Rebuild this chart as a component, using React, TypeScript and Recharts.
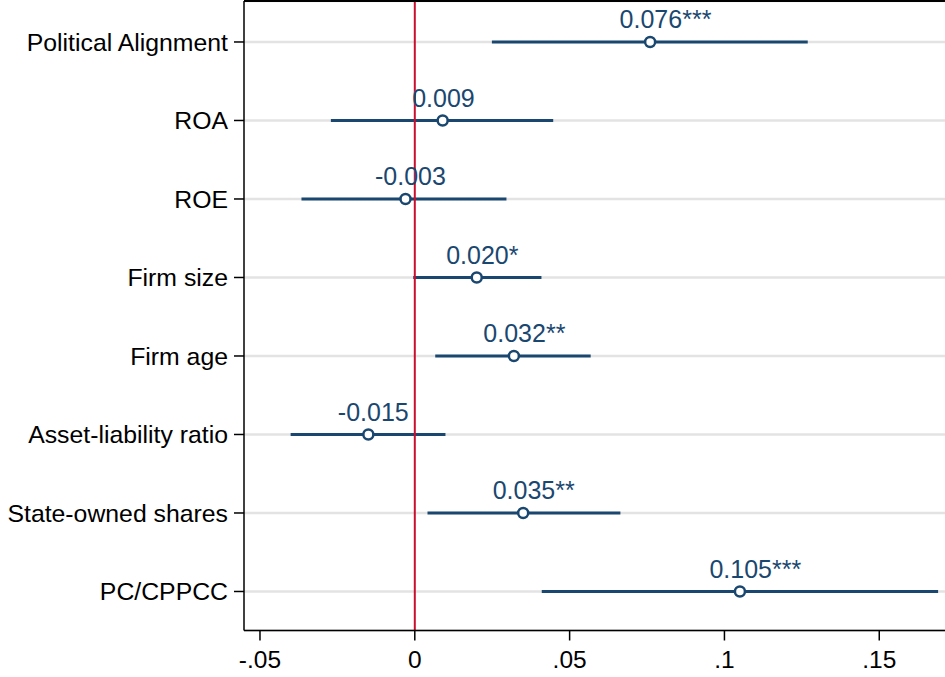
import React from "react";
import {
  ScatterChart,
  Scatter,
  XAxis,
  YAxis,
  CartesianGrid,
  ReferenceLine,
  ErrorBar,
  LabelList,
} from "recharts";

const variables = [
  "Political Alignment",
  "ROA",
  "ROE",
  "Firm size",
  "Firm age",
  "Asset-liability ratio",
  "State-owned shares",
  "PC/CPPCC",
];
const estimates = [0.076, 0.009, -0.003, 0.02, 0.032, -0.015, 0.035, 0.105];
const ciLow = [0.0249, -0.0271, -0.0366, -0.0005, 0.0066, -0.0401, 0.0041, 0.041];
const ciHigh = [0.1269, 0.0447, 0.0296, 0.0409, 0.0568, 0.0099, 0.0664, 0.169];
const labels = [
  "0.076***",
  "0.009",
  "-0.003",
  "0.020*",
  "0.032**",
  "-0.015",
  "0.035**",
  "0.105***",
];
const xTicks = [-0.05, 0, 0.05, 0.1, 0.15];
const xTickLabels = ["-.05", "0", ".05", ".1", ".15"];
const rowPositions = [1, 2, 3, 4, 5, 6, 7, 8];

const NAVY = "#1a476f";
const RED = "#c8102e";
const FONT = "'Liberation Sans', Arial, sans-serif";

const data = variables.map((v, i) => ({
  name: v,
  y: rowPositions[i],
  x: estimates[i],
  err: [estimates[i] - ciLow[i], ciHigh[i] - estimates[i]],
  label: labels[i],
}));

const PointShape = (props: any) => {
  const { cx, cy } = props;
  if (cx == null || cy == null) return null;
  return <circle cx={cx} cy={cy} r={5} fill="#ffffff" stroke={NAVY} strokeWidth={2.5} />;
};

const LabelContent = (props: any) => {
  const { x, y, value } = props;
  if (x == null || y == null) return null;
  return (
    <text
      x={x - 26}
      y={y - 9}
      textAnchor="start"
      fill={NAVY}
      fontSize={25}
      fontFamily={FONT}
    >
      {value}
    </text>
  );
};

export default function App() {
  return (
    <div style={{ position: "absolute", left: 0, top: 0, background: "#ffffff" }}>
      <ScatterChart
        width={945}
        height={677}
        margin={{ top: 0, right: 0, bottom: 0, left: 0 }}
      >
        <CartesianGrid
          horizontal={true}
          vertical={false}
          stroke="#e3e3e3"
          strokeWidth={2.5}
        />
        <XAxis
          xAxisId="top"
          orientation="top"
          type="number"
          dataKey="x"
          domain={[-0.05516, 0.17123]}
          allowDataOverflow={true}
          height={1}
          tick={false}
          tickLine={false}
          stroke="#000000"
          strokeWidth={2}
        />
        <XAxis
          type="number"
          dataKey="x"
          domain={[-0.05516, 0.17123]}
          allowDataOverflow={true}
          ticks={xTicks}
          interval={0}
          tickFormatter={(v: number) => {
            const idx = xTicks.findIndex((t) => Math.abs(t - v) < 1e-9);
            return idx >= 0 ? xTickLabels[idx] : String(v);
          }}
          height={46.5}
          tickSize={10}
          tickMargin={10}
          stroke="#000000"
          strokeWidth={1.5}
          tick={{ fill: "#000000", fontSize: 24.5, fontFamily: FONT }}
          tickLine={{ stroke: "#000000", strokeWidth: 1.5 }}
        />
        <YAxis
          type="number"
          dataKey="y"
          domain={[0.478, 8.497]}
          reversed={true}
          allowDataOverflow={true}
          ticks={rowPositions}
          interval={0}
          tickFormatter={(v: number) => variables[Math.round(v) - 1] ?? ""}
          width={244}
          tickSize={10}
          tickMargin={6}
          stroke="#000000"
          strokeWidth={1.5}
          tick={{ fill: "#000000", fontSize: 24.8, fontFamily: FONT }}
          tickLine={{ stroke: "#000000", strokeWidth: 1.5 }}
        />
        <Scatter
          data={data}
          shape={PointShape}
          isAnimationActive={false}
        >
          <ErrorBar
            dataKey="err"
            direction="x"
            width={0}
            stroke={NAVY}
            strokeWidth={3}
          />
          <LabelList dataKey="label" content={LabelContent} />
        </Scatter>
        <ReferenceLine x={0} stroke={RED} strokeWidth={2} />
      </ScatterChart>
    </div>
  );
}
